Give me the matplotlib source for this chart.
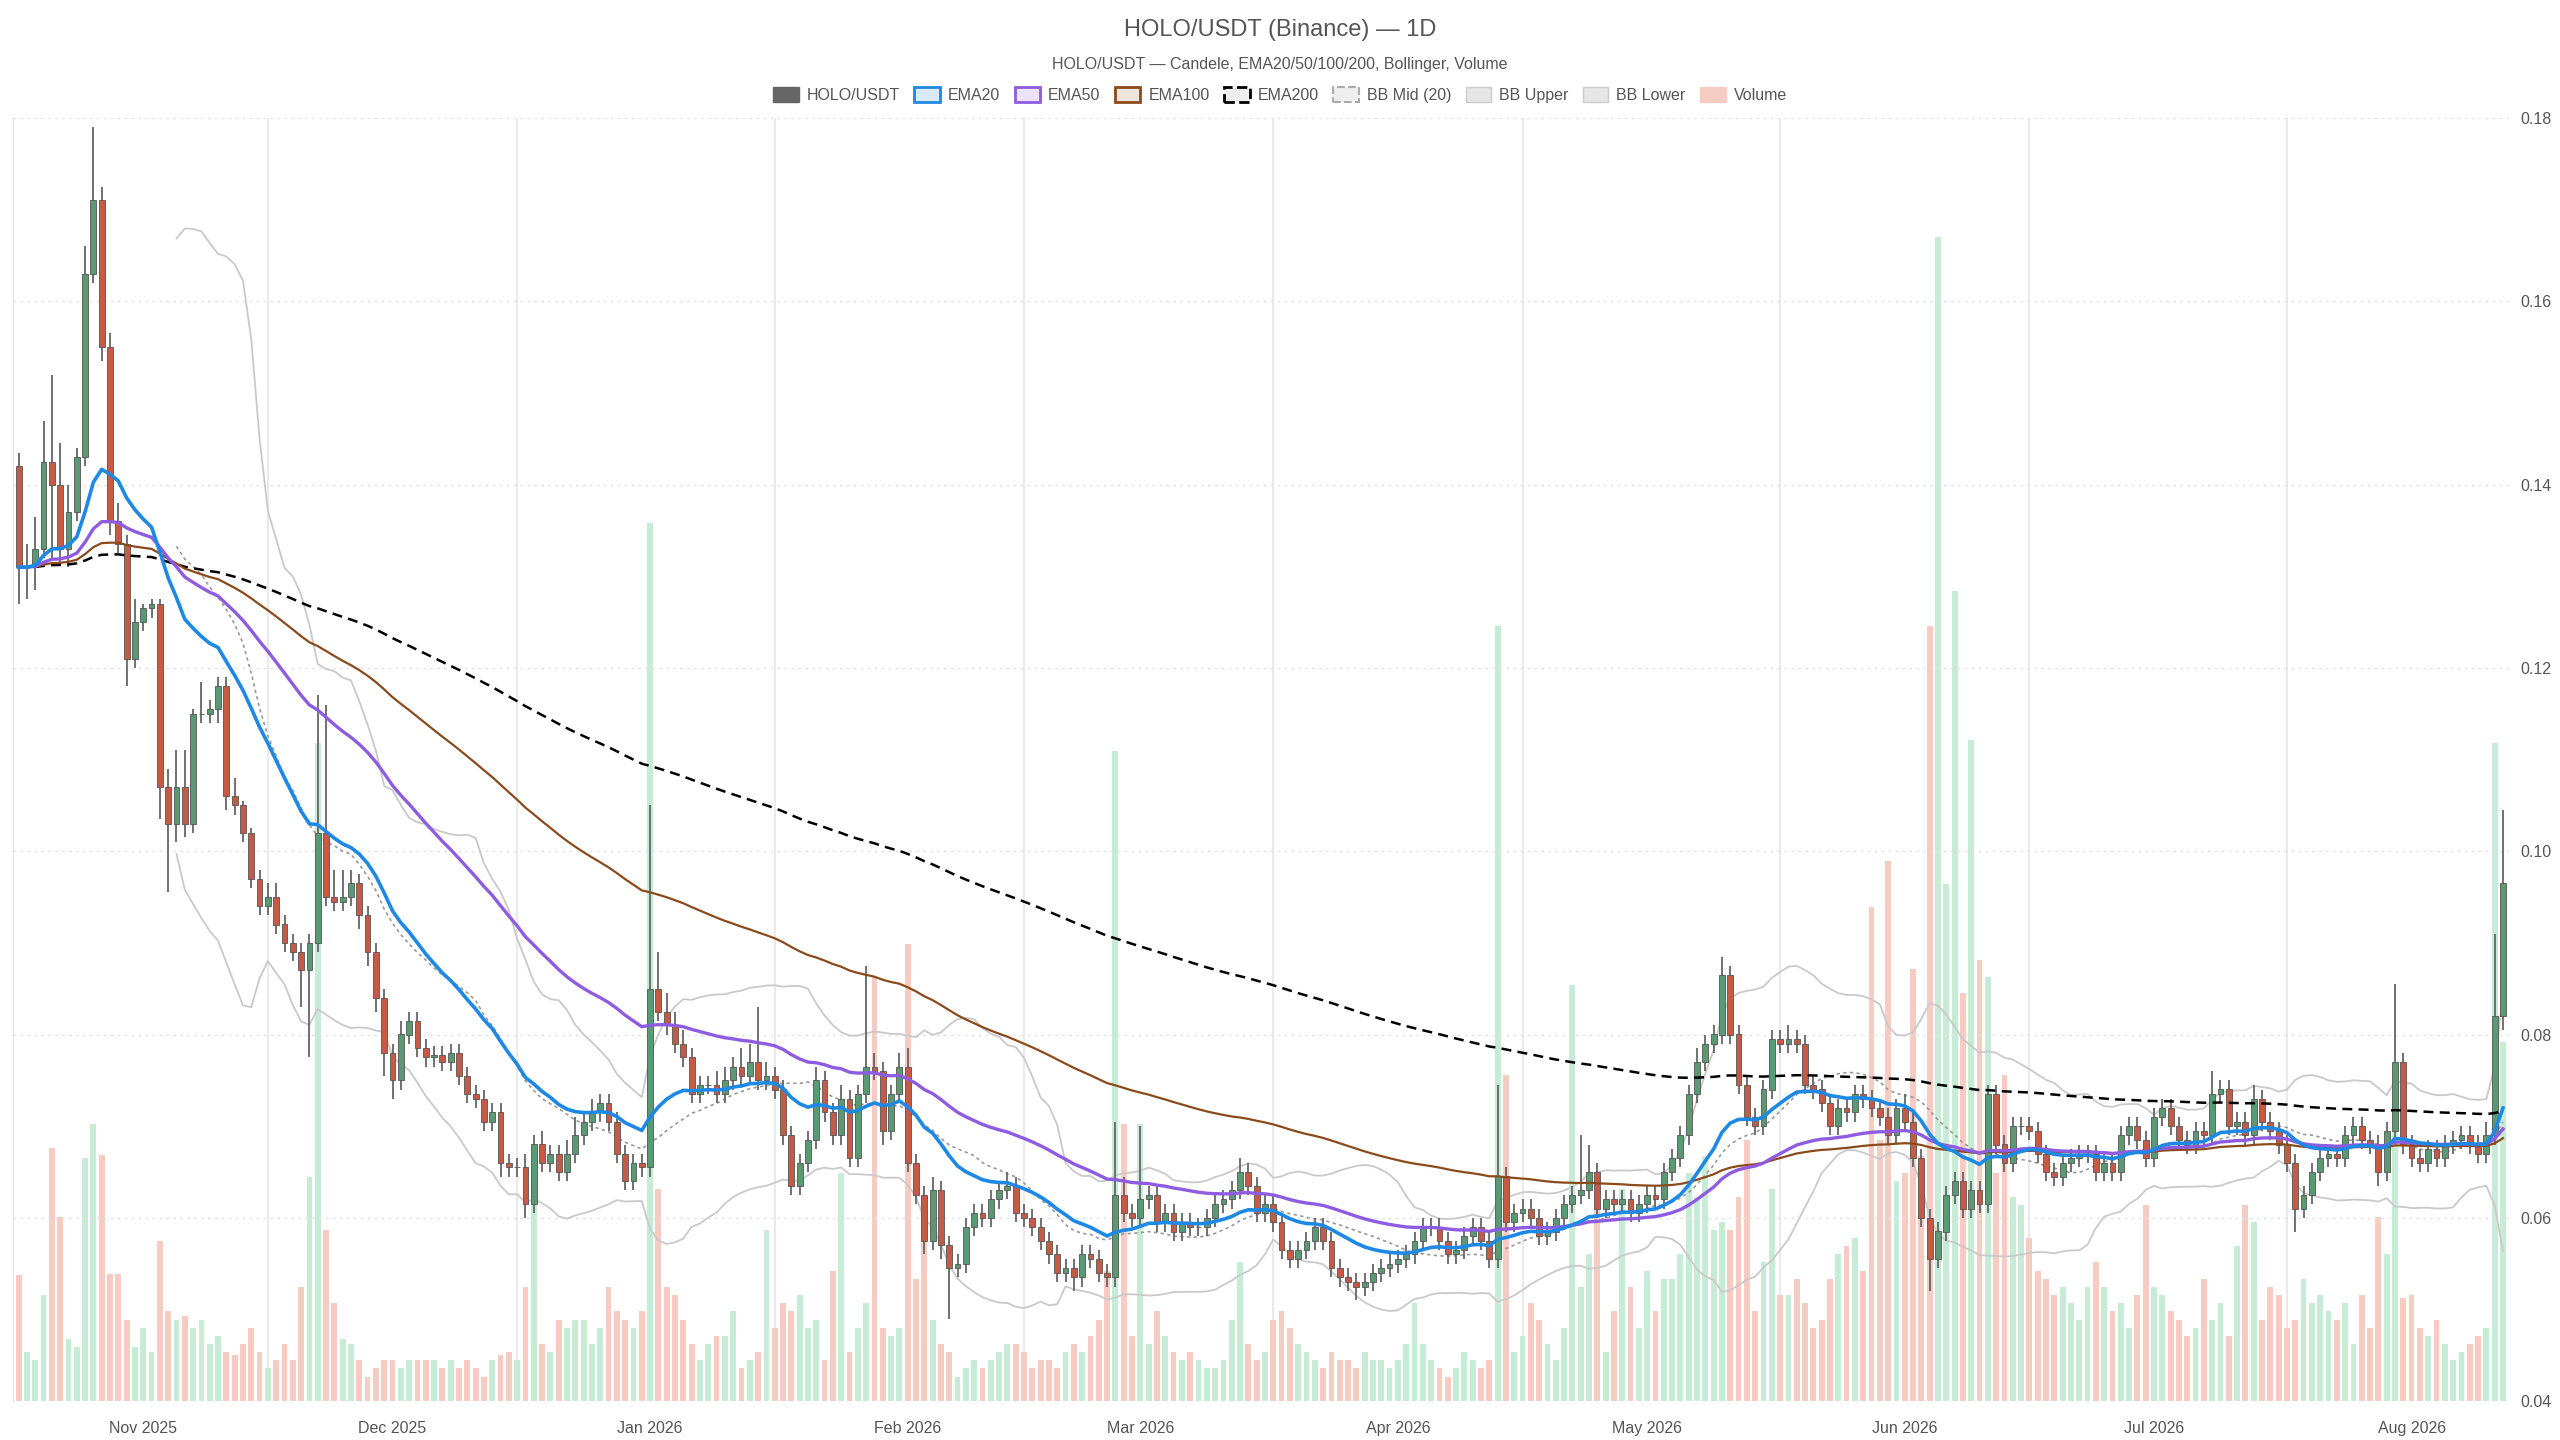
import numpy as np
import pandas as pd
import matplotlib
matplotlib.use("Agg")
import matplotlib.pyplot as plt
import matplotlib.dates as mdates
from matplotlib.patches import Patch

plt.rcParams['font.family'] = ['Liberation Sans', 'DejaVu Sans']

# ---------------- data (daily closes, by month) ----------------
first_open = 0.142
close_oct = [0.131,0.131,0.133,0.1425,0.140,0.133,0.137,0.143,0.163,0.171,0.155,0.136,0.1335,0.121,0.125]
close_nov = [0.1265,0.1270,0.107,0.103,0.107,0.103,0.115,0.1150,0.1155,0.118,0.106,0.105,0.102,0.097,0.094,
             0.095,0.092,0.090,0.089,0.087,0.090,0.102,0.095,0.0945,0.0950,0.0965,0.093,0.089,0.084,0.078]
close_dec = [0.075,0.080,0.0815,0.0785,0.0775,0.0778,0.077,0.078,0.0755,0.0735,0.073,0.0705,0.0715,0.066,0.0655,
             0.0655,0.0615,0.068,0.066,0.067,0.065,0.067,0.069,0.0705,0.0715,0.0725,0.0705,0.067,0.064,0.066,0.0655]
close_jan = [0.085,0.0825,0.081,0.079,0.0775,0.0735,0.0745,0.0745,0.0735,0.075,0.0765,0.0755,0.077,0.075,0.0755,
             0.074,0.069,0.0635,0.066,0.0685,0.075,0.0715,0.069,0.073,0.0665,0.0735,0.0765,0.076,0.0695,0.0735,0.0765]
close_feb = [0.066,0.0625,0.0575,0.063,0.057,0.0545,0.055,0.059,0.0605,0.060,0.062,0.063,0.0635,0.0605,0.060,
             0.059,0.0575,0.056,0.054,0.0545,0.0535,0.0560,0.0555,0.0540,0.0535,0.0625,0.0605,0.0600]
close_mar = [0.0620,0.0625,0.0595,0.0605,0.0585,0.0595,0.0590,0.0590,0.0600,0.0615,0.0620,0.0630,0.0650,0.0635,0.0605,
             0.0615,0.0595,0.0565,0.0555,0.0565,0.0575,0.0590,0.0575,0.0545,0.0535,0.0530,0.0525,0.0530,0.0540,0.0545,0.0550]
close_apr = [0.0555,0.0560,0.0575,0.0590,0.0590,0.0575,0.0560,0.0565,0.0580,0.0590,0.0575,0.0555,0.0645,0.0595,0.0605,
             0.0610,0.0600,0.0580,0.0585,0.0600,0.0615,0.0625,0.0630,0.0650,0.0610,0.0620,0.0615,0.0620,0.0605,0.0615]
close_may = [0.0625,0.0620,0.0650,0.0665,0.0690,0.0735,0.0770,0.0790,0.0800,0.0865,0.0800,0.0745,0.0710,0.0700,0.0740,
             0.0795,0.0790,0.0795,0.0790,0.0745,0.0740,0.0725,0.0700,0.0720,0.0715,0.0735,0.0730,0.0720,0.0710,0.0690,0.0720]
close_jun = [0.0705,0.0665,0.0600,0.0555,0.0585,0.0625,0.0640,0.0610,0.0630,0.0615,0.0735,0.0680,0.0660,0.0700,0.0700,
             0.0695,0.0670,0.0650,0.0645,0.0660,0.0665,0.0670,0.0670,0.0650,0.0660,0.0650,0.0690,0.0700,0.0685,0.0665]
close_jul = [0.0710,0.0720,0.0700,0.0685,0.0680,0.0695,0.0690,0.0735,0.0740,0.0700,0.0705,0.0690,0.0730,0.0705,0.0695,
             0.0680,0.0660,0.0610,0.0625,0.0650,0.0665,0.0670,0.0665,0.0690,0.0700,0.0685,0.0680,0.0650,0.0695,0.0770,0.0680]
close_aug = [0.0665,0.0660,0.0675,0.0665,0.0680,0.0685,0.0690,0.0680,0.0670,0.0690,0.0820,0.0965]

# upper / lower wick lengths (x0.001)
up_oct = [1.5,2.5,3.5,4.5,9.5,4.5,3.0,1.0,3.0,8.0,1.5,1.5,2.0,1.0,2.5]
up_nov = [0.5,0.5,0.5,2.0,4.0,4.0,0.5,3.5,1.0,1.0,1.0,2.0,0.5,0.5,1.0,1.5,1.5,1.0,1.0,1.0,1.0,15.0,14.0,3.0,3.0,1.5,1.0,1.0,1.0,1.0]
up_dec = [1.0,1.5,1.0,1.0,1.0,1.0,1.0,1.0,1.0,1.0,1.0,1.0,1.0,1.0,1.0,1.0,1.5,1.0,1.5,1.0,1.0,1.5,2.0,1.0,1.5,1.0,1.0,1.0,1.0,1.0,1.0]
up_jan = [20.0,4.0,2.0,1.5,1.5,1.0,1.0,1.0,1.5,1.5,1.0,2.0,2.0,6.0,1.5,1.0,1.0,1.0,1.0,1.0,1.5,1.0,1.0,1.5,1.0,1.0,11.0,1.5,1.0,1.0,1.5]
up_feb = [2.0,1.0,1.0,1.5,1.0,1.0,1.0,1.0,1.0,1.0,1.0,1.0,1.5,1.0,1.0,1.0,1.0,1.0,1.0,1.0,1.0,1.0,1.0,1.0,1.0,8.0,2.0,1.0]
up_mar = [8.0,1.0,1.0,1.0,1.0,1.0,1.0,1.0,1.0,1.0,1.0,1.0,1.5,1.0,1.0,1.0,1.0,1.0,1.0,1.0,1.0,1.0,1.0,1.0,1.0,1.0,1.0,1.0,1.0,1.0,1.0]
up_apr = [1.0,1.0,1.0,1.0,1.0,1.0,1.0,1.0,1.0,1.0,1.0,1.0,10.0,1.0,1.0,1.0,1.0,1.0,1.0,1.0,1.0,1.0,6.0,3.0,1.0,1.0,1.0,1.0,1.0,1.0]
up_may = [1.0,1.0,1.0,1.0,1.0,1.0,1.5,1.0,1.0,2.0,1.0,1.0,1.0,1.0,1.0,1.0,1.0,1.5,1.0,1.0,1.0,1.0,1.0,1.0,1.0,1.0,1.0,1.0,1.0,1.0,1.0]
up_jun = [1.5,1.0,1.0,1.0,1.0,1.0,1.0,1.0,1.0,1.0,1.0,1.0,1.0,1.0,1.0,1.0,1.0,1.0,1.0,1.0,1.0,1.0,1.0,1.0,1.0,1.0,1.0,1.0,1.0,1.0]
up_jul = [1.0,1.0,1.0,1.0,1.0,1.0,1.0,2.5,1.0,1.0,1.0,1.0,1.5,1.0,1.0,1.0,1.0,1.0,1.0,1.0,1.0,1.0,1.0,1.0,1.0,1.0,1.0,1.0,1.0,8.5,1.0]
up_aug = [1.0,1.0,1.0,1.0,1.0,1.0,1.0,1.0,1.0,1.5,9.0,8.0]
lo_oct = [4.0,3.5,2.5,1.0,8.0,1.5,2.0,1.0,1.0,1.0,1.5,1.5,1.0,3.0,1.0]
lo_nov = [1.0,1.0,3.5,7.5,2.0,1.5,1.0,1.0,1.0,1.5,1.5,1.0,1.0,1.0,1.0,1.0,1.0,1.0,1.0,4.0,9.5,1.0,1.0,1.0,1.0,1.0,1.5,1.5,1.5,2.5]
lo_dec = [2.0,1.0,1.0,1.0,1.0,1.0,1.0,1.0,1.0,1.0,1.0,1.0,1.0,1.5,1.0,1.0,1.5,1.0,1.0,1.0,1.0,1.0,1.0,1.0,1.0,1.0,1.0,1.0,1.0,1.0,1.0]
lo_jan = [1.0,1.0,1.0,1.0,1.0,1.0,1.0,1.0,1.0,1.0,1.0,1.0,1.0,1.0,1.0,1.0,1.0,1.0,1.0,1.0,1.0,1.0,1.0,1.0,1.0,1.0,1.0,1.0,1.5,1.0,1.0]
lo_feb = [1.0,1.0,1.5,1.0,1.5,5.5,1.0,1.0,1.0,1.0,1.0,1.0,1.0,1.0,1.0,1.0,1.0,1.0,1.0,1.0,1.5,1.0,1.0,1.0,1.0,1.0,1.0,1.0]
lo_mar = [1.0,1.0,1.0,1.0,1.0,1.0,1.0,1.0,1.0,1.0,1.0,1.0,1.0,1.0,1.0,1.0,1.0,1.0,1.0,1.0,1.0,1.0,1.0,1.0,1.0,1.0,1.5,1.0,1.0,1.0,1.0]
lo_apr = [1.0,1.0,1.0,1.0,1.0,1.0,1.0,1.0,1.0,1.0,1.0,1.0,1.0,1.0,1.0,1.0,1.0,1.0,1.0,1.0,1.0,1.0,1.0,1.0,1.0,1.0,1.0,1.0,1.0,1.0]
lo_may = [1.0,1.0,1.0,1.0,1.0,1.0,1.0,1.0,1.0,1.0,1.0,1.0,1.0,1.0,1.0,1.0,1.0,1.0,1.0,1.0,1.0,1.0,1.0,1.0,1.0,1.0,1.0,1.0,1.0,1.0,1.0]
lo_jun = [1.0,1.0,1.0,3.5,1.0,1.0,1.0,1.0,1.0,1.0,1.0,1.0,1.0,1.0,1.0,1.0,1.0,1.0,1.0,1.0,1.0,1.0,1.0,1.0,1.0,1.0,1.0,1.0,1.0,1.0]
lo_jul = [1.0,1.0,1.0,1.0,1.0,1.0,1.0,1.0,1.0,1.0,1.0,1.0,1.0,1.0,1.0,1.0,1.0,2.5,1.0,1.0,1.0,1.0,1.0,1.0,1.0,1.0,1.0,1.5,1.0,1.0,1.0]
lo_aug = [1.0,1.0,1.0,1.0,1.0,1.0,1.0,1.0,1.0,1.0,1.0,1.5]

vol_oct = [7.7,3.0,2.5,6.5,15.5,11.3,3.8,3.3,14.9,17.0,15.1,7.8,7.8,5.0,3.3]
vol_nov = [4.5,3.0,9.8,5.5,5.0,5.2,4.5,5.0,3.5,4.0,3.0,2.8,3.5,4.5,3.0,2.0,2.5,3.5,2.5,7.0,13.7,40.3,10.5,6.0,3.8,3.5,2.5,1.5,2.0,2.5]
vol_dec = [2.5,2.0,2.5,2.5,2.5,2.5,2.0,2.5,2.0,2.5,2.0,1.5,2.5,2.8,3.0,2.5,7.0,13.5,3.5,3.0,5.0,4.5,5.0,5.0,3.5,4.5,7.0,5.5,5.0,4.5,5.5]
vol_jan = [53.8,13.0,7.0,6.5,5.0,3.5,2.5,3.5,4.0,4.0,5.5,2.0,2.5,3.0,10.5,4.5,6.0,5.5,6.5,4.5,5.0,2.5,8.0,14.0,3.0,4.5,6.0,26.0,4.5,4.0,4.5]
vol_feb = [28.0,7.5,12.0,5.0,3.5,3.0,1.5,2.0,2.5,2.0,2.5,3.0,3.5,3.5,3.0,2.0,2.5,2.5,2.0,3.0,3.5,3.0,4.0,5.0,8.0,39.8,17.0,4.0]
vol_mar = [17.0,3.5,5.5,4.0,3.0,2.5,3.0,2.5,2.0,2.0,2.5,5.0,8.5,3.5,2.5,3.0,5.0,5.5,4.5,3.5,3.0,2.5,2.0,3.0,2.5,2.5,2.0,3.0,2.5,2.5,2.0]
vol_apr = [2.5,3.5,6.0,3.5,2.5,2.0,1.5,2.0,3.0,2.5,2.0,2.5,47.5,20.0,3.0,4.0,6.0,5.0,3.5,2.5,4.5,25.5,7.0,9.0,14.0,3.0,5.5,13.0,7.0,4.5]
vol_may = [8.0,5.5,7.5,7.5,9.0,14.0,12.5,15.0,10.5,11.0,10.5,12.5,16.0,5.5,8.5,13.0,6.5,6.5,7.5,6.0,4.5,5.0,7.5,9.0,9.5,10.0,8.0,30.3,16.0,33.1,13.5]
vol_jun = [14.0,26.5,15.0,47.5,71.3,31.7,49.6,25.0,40.5,27.0,26.0,14.0,20.0,12.5,12.0,10.0,8.0,7.5,6.5,7.0,6.0,5.0,7.0,8.5,7.0,5.5,6.0,4.5,6.5,12.0]
vol_jul = [7.0,6.5,5.5,5.0,4.0,4.5,7.5,5.0,6.0,4.0,9.5,12.0,11.0,5.0,7.0,6.5,4.5,5.0,7.5,6.0,6.5,5.5,5.0,6.0,3.5,6.5,4.5,11.3,9.0,20.3,6.3]
vol_aug = [6.5,4.5,4.0,5.0,3.5,2.5,3.0,3.5,4.0,4.5,40.3,22.0]

start_date = "2025-10-17"
xtick_labels = ["Nov 2025","Dec 2025","Jan 2026","Feb 2026","Mar 2026","Apr 2026","May 2026","Jun 2026","Jul 2026","Aug 2026"]
grid_dates = ["2025-11-16","2025-12-16","2026-01-16","2026-02-15","2026-03-17","2026-04-16","2026-05-17","2026-06-16","2026-07-17"]

# ---------------- assemble ----------------
close = np.array(close_oct+close_nov+close_dec+close_jan+close_feb+close_mar+close_apr+close_may+close_jun+close_jul+close_aug)
up = np.array(up_oct+up_nov+up_dec+up_jan+up_feb+up_mar+up_apr+up_may+up_jun+up_jul+up_aug)*0.001
lo = np.array(lo_oct+lo_nov+lo_dec+lo_jan+lo_feb+lo_mar+lo_apr+lo_may+lo_jun+lo_jul+lo_aug)*0.001
vol = np.array(vol_oct+vol_nov+vol_dec+vol_jan+vol_feb+vol_mar+vol_apr+vol_may+vol_jun+vol_jul+vol_aug)
n = len(close)
assert len(up) == n and len(lo) == n and len(vol) == n, (n, len(up), len(lo), len(vol))
opn = np.concatenate([[first_open], close[:-1]])
high = np.maximum(opn, close) + up
low = np.minimum(opn, close) - lo
dates = pd.date_range(start_date, periods=n, freq="D")
x = mdates.date2num(dates)

s = pd.Series(close)
ema = {k: s.ewm(span=k, adjust=False).mean() for k in (20, 50, 100, 200)}
mid = s.rolling(20).mean()
sd = s.rolling(20).std(ddof=0)
bbu, bbl = mid + 2*sd, mid - 2*sd

GREEN = "#5a9a72"; RED = "#c75a45"
VG = "#c6ecd6"; VR = "#f6cbc2"
up_mask = close >= opn

fig = plt.figure(figsize=(25.6, 14.4), dpi=100)
ax = fig.add_axes([0.005, 0.027, 0.975, 0.891])
ax2 = ax.twinx()
ax.set_zorder(ax2.get_zorder() + 1); ax.patch.set_visible(False)

for gd in mdates.date2num(pd.to_datetime(grid_dates)):
    ax2.axvline(gd, color="#e6e6e6", lw=1.2, zorder=0)
ax2.bar(x, vol, width=0.7, color=np.where(up_mask, VG, VR), edgecolor="none", zorder=1)
ax2.set_ylim(0, 78.6); ax2.set_yticks([])
for sp in ax2.spines.values(): sp.set_visible(False)

# candles
ax.vlines(x, low, high, color="#666666", lw=1.3, zorder=3)
ax.bar(x, np.abs(close-opn)+1e-5, bottom=np.minimum(opn, close), width=0.7,
       color=np.where(up_mask, GREEN, RED), edgecolor="#555555", lw=0.6, zorder=4)

ax.plot(x, bbu, color="#c9c9c9", lw=1.3, zorder=2)
ax.plot(x, bbl, color="#c9c9c9", lw=1.3, zorder=2)
ax.plot(x, mid, color="#999999", lw=1.2, ls=(0, (2, 2)), zorder=2)
ax.plot(x, ema[200], color="black", lw=1.8, ls=(0, (4, 2.5)), zorder=5)
ax.plot(x, ema[100], color="#8b4a1c", lw=1.6, zorder=5)
ax.plot(x, ema[50], color="#8e5ce0", lw=2.4, zorder=5)
ax.plot(x, ema[20], color="#1e88e5", lw=2.6, zorder=6)

ax.set_ylim(0.04, 0.18)
ax.set_xlim(x[0]-0.7, x[-1]+0.7)
ax.yaxis.tick_right()
ax.set_yticks(np.arange(0.04, 0.181, 0.02))
ax.yaxis.set_major_formatter(matplotlib.ticker.FormatStrFormatter("%.2f"))
month_starts = pd.date_range("2025-11-01", "2026-08-01", freq="MS")
ax.set_xticks(mdates.date2num(month_starts))
ax.set_xticklabels(xtick_labels)
ax.tick_params(axis="both", length=0, labelsize=11.5, labelcolor="#555555", pad=8)
ax.tick_params(axis="x", pad=14)
ax.grid(axis="y", color="#e3e3e3", ls=(0, (2, 3)), lw=1)
for k, sp in ax.spines.items():
    sp.set_visible(k == "left")
ax.spines["left"].set_color("#dddddd")

fig.text(0.5, 0.979, "HOLO/USDT (Binance) — 1D", ha="center", va="center", fontsize=17, color="#555555")
fig.text(0.5, 0.955, "HOLO/USDT — Candele, EMA20/50/100/200, Bollinger, Volume", ha="center", va="center",
         fontsize=11.5, color="#555555")
handles = [
    Patch(facecolor="#666666", edgecolor="#666666", label="HOLO/USDT"),
    Patch(facecolor="#dbeaf8", edgecolor="#1e88e5", lw=2, label="EMA20"),
    Patch(facecolor="#ece3fa", edgecolor="#8e5ce0", lw=2, label="EMA50"),
    Patch(facecolor="#efe5dc", edgecolor="#8b4a1c", lw=2, label="EMA100"),
    Patch(facecolor="#eeeeee", edgecolor="black", lw=2, ls="--", label="EMA200"),
    Patch(facecolor="#eeeeee", edgecolor="#aaaaaa", lw=1.5, ls="--", label="BB Mid (20)"),
    Patch(facecolor="#e6e6e6", edgecolor="#cccccc", lw=1, label="BB Upper"),
    Patch(facecolor="#e6e6e6", edgecolor="#cccccc", lw=1, label="BB Lower"),
    Patch(facecolor=VR, edgecolor=VR, label="Volume"),
]
fig.legend(handles=handles, loc="center", bbox_to_anchor=(0.5, 0.934), ncol=9, frameon=False,
           fontsize=11.5, labelcolor="#555555", handlelength=1.6, handleheight=1.0,
           columnspacing=0.9, handletextpad=0.5)
fig.savefig("out.png", dpi=100)
